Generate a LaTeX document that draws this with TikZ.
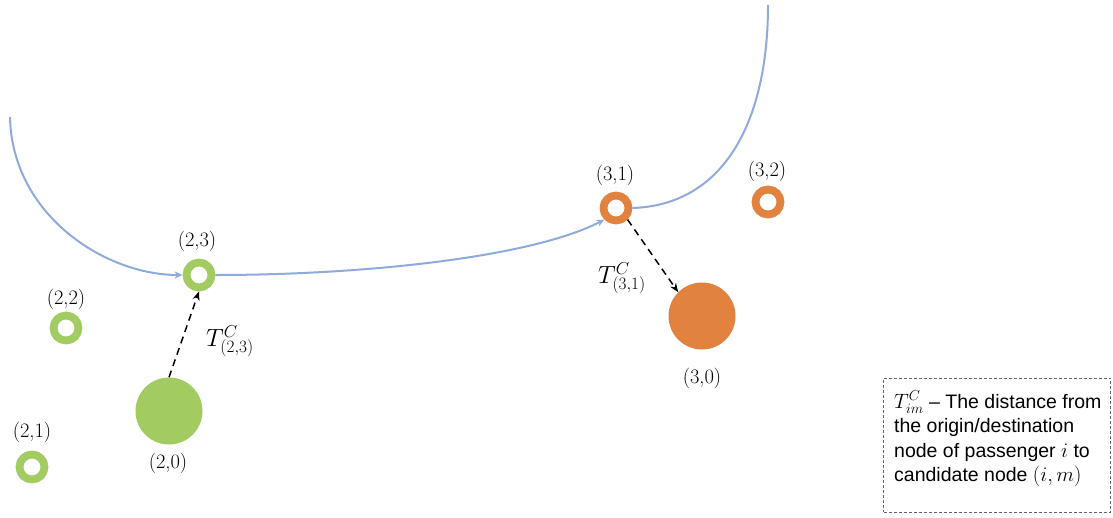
\documentclass[tikz,border=0pt]{standalone}
\usepackage{fontspec}
\newfontfamily\legendfont[Ligatures=TeX]{Liberation Sans}
\usetikzlibrary{arrows.meta}
\definecolor{cgreen}{HTML}{A2CB62}
\definecolor{corange}{HTML}{E2823F}
\definecolor{cblue}{HTML}{8FAADC}
\begin{document}
\begin{tikzpicture}[x=1pt,y=-1pt,
  ring/.style={circle,draw=#1,line width=7.8pt,minimum size=25pt,inner sep=0pt,fill=white},
  disk/.style={circle,fill=#1,minimum size=67pt,inner sep=0pt},
  lbl/.style={font=\fontsize{20.5}{24}\selectfont},
  tl/.style={font=\fontsize{26}{30}\selectfont},
  legline/.style={anchor=base west,inner sep=0pt,font=\legendfont\fontsize{19.5}{24}\selectfont},
  route/.style={draw=cblue,line width=2pt,-{Stealth[length=8pt,width=7pt]}},
  route0/.style={draw=cblue,line width=2pt},
  dist/.style={draw=black,line width=1.5pt,dash pattern=on 7pt off 5pt,-{Stealth[length=9pt,width=7pt]}}]
\useasboundingbox (0,0) rectangle (1113,517);
% nodes
\node[ring=cgreen] (n23) at (199,275) {};
\node[ring=cgreen] (n22) at (66,328) {};
\node[ring=cgreen] (n21) at (32,467) {};
\node[ring=corange] (n31) at (616,208) {};
\node[ring=corange] (n32) at (768,202) {};
\node[disk=cgreen] (n20) at (169,411) {};
\node[disk=corange] (n30) at (702,316) {};
% labels
\node[lbl] (l23) at (197,241) {(2,3)};
\node[lbl] (l22) at (66,299) {(2,2)};
\node[lbl] (l21) at (32,432) {(2,1)};
\node[lbl] (l31) at (615,175) {(3,1)};
\node[lbl] (l32) at (767,171) {(3,2)};
\node[lbl] (l20) at (168,463) {(2,0)};
\node[lbl] (l30) at (702,378) {(3,0)};
\node[tl] (t23) at (230,341) {$T^{C}_{(2,3)}$};
\node[tl] (t31) at (622,278) {$T^{C}_{(3,1)}$};
% route
\coordinate (s) at (10,117);
\coordinate (e) at (768,5);
\draw[route] (s) .. controls (12,215) and (105,275) .. (n23.west);
\draw[route] (n23.east) .. controls (360,275) and (530,258) .. (n31.south west);
\draw[route0] (n31.east) .. controls (725,205) and (768,120) .. (e);
% distances
\draw[dist] (n20.north) -- (n23.south);
\draw[dist] (n31.south east) -- (n30.north west);
% legend
\node[draw=black!60,line width=0.8pt,dash pattern=on 3pt off 2pt,minimum width=227pt,minimum height=134pt,inner sep=0pt] (leg) at (997,445) {};
\node[legline] (lg1) at (894,408.5) {$T^{C}_{im}$ – The distance from};
\node[legline] (lg2) at (894,432.5) {the origin/destination};
\node[legline] (lg3) at (894,457) {node of passenger $i$ to};
\node[legline] (lg4) at (894,481) {candidate node $(i,m)$};
\end{tikzpicture}
\end{document}
